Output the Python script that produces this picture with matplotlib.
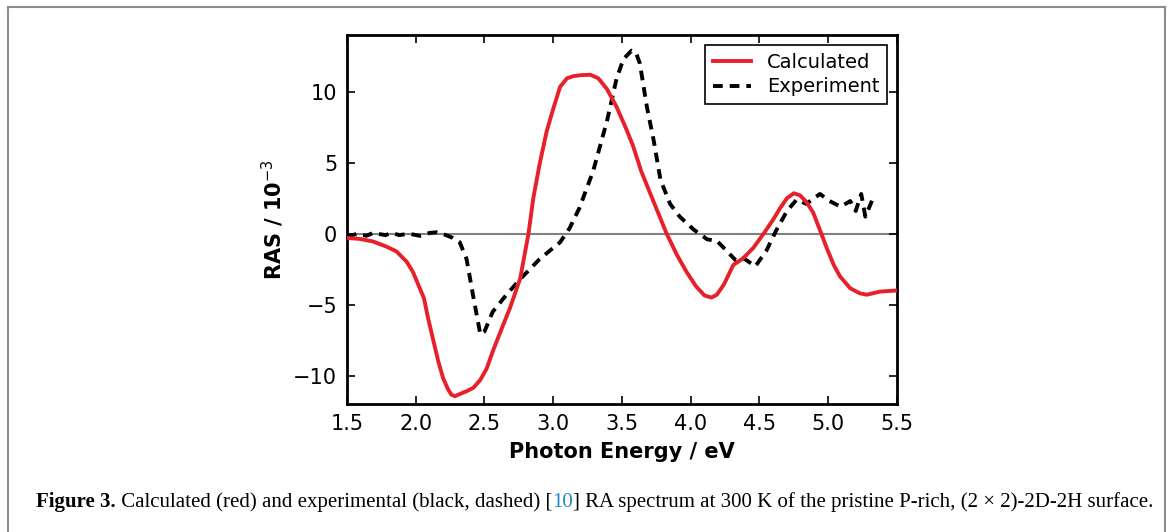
import matplotlib
matplotlib.use("Agg")
import matplotlib.pyplot as plt
from matplotlib.lines import Line2D

# ── Data ──────────────────────────────────────────────────────────────────────
calc_e = [1.50, 1.595, 1.69, 1.79, 1.86, 1.91, 1.934, 1.98, 2.06, 2.09, 2.13,
          2.164, 2.20, 2.237, 2.26, 2.285, 2.32, 2.37, 2.42, 2.47, 2.516,
          2.56, 2.637, 2.685, 2.76, 2.82, 2.855, 2.90, 2.952, 3.00, 3.05,
          3.10, 3.146, 3.20, 3.27, 3.328, 3.39, 3.46, 3.53, 3.58, 3.64, 3.73,
          3.825, 3.90, 3.97, 4.04, 4.10, 4.15, 4.19, 4.24, 4.31, 4.38, 4.455,
          4.53, 4.60, 4.65, 4.70, 4.75, 4.795, 4.84, 4.89, 4.95, 4.99, 5.04,
          5.085, 5.16, 5.23, 5.28, 5.376, 5.50]
calc_v = [-0.30, -0.37, -0.55, -0.92, -1.25, -1.74, -1.97, -2.7, -4.55, -5.96,
          -7.6, -9.0, -10.2, -11.0, -11.35, -11.45, -11.3, -11.1, -10.85,
          -10.3, -9.5, -8.3, -6.4, -5.25, -3.15, 0.0, 2.5, 4.85, 7.2, 8.8,
          10.35, 10.95, 11.1, 11.17, 11.2, 10.95, 10.2, 8.95, 7.4, 6.2, 4.4,
          2.25, 0.0, -1.5, -2.7, -3.73, -4.35, -4.5, -4.3, -3.6, -2.2, -1.74,
          -1.0, 0.0, 1.0, 1.8, 2.5, 2.85, 2.7, 2.25, 1.5, 0.0, -1.03, -2.2,
          -3.0, -3.85, -4.2, -4.3, -4.08, -4.0]

exp_e = [1.50, 1.58, 1.64, 1.69, 1.78, 1.83, 1.88, 1.95, 2.03, 2.10, 2.15,
         2.22, 2.27, 2.32, 2.37, 2.42, 2.47, 2.50, 2.56, 2.66, 2.76, 2.90,
         3.05, 3.12, 3.19, 3.29, 3.39, 3.46, 3.51, 3.57, 3.60, 3.63, 3.68,
         3.73, 3.78, 3.85, 3.92, 4.02, 4.12, 4.19, 4.26, 4.33, 4.38, 4.47,
         4.55, 4.62, 4.70, 4.77, 4.84, 4.94, 5.01, 5.09, 5.16, 5.20, 5.24,
         5.27, 5.33]
exp_v = [-0.2, 0.0, -0.15, 0.05, -0.1, 0.05, -0.1, 0.0, -0.15, 0.05, 0.1,
         -0.1, -0.3, -0.6, -1.8, -4.5, -7.1, -6.9, -5.5, -4.3, -3.2, -1.8,
         -0.6, 0.4, 1.8, 4.4, 7.9, 10.9, 12.3, 12.9, 12.8, 12.0, 9.0, 6.6,
         3.8, 2.1, 1.2, 0.3, -0.4, -0.5, -1.2, -1.9, -1.7, -2.3, -1.2, 0.2,
         1.6, 2.4, 2.1, 2.8, 2.3, 1.9, 2.3, 1.6, 2.8, 1.2, 2.6]

x_ticks = [1.5, 2.0, 2.5, 3.0, 3.5, 4.0, 4.5, 5.0, 5.5]
y_ticks = [-10, -5, 0, 5, 10]

RED = "#e8202a"

plt.rcParams["font.family"] = "DejaVu Sans"
plt.rcParams["lines.scale_dashes"] = False

fig = plt.figure(figsize=(11.71, 5.32), dpi=100)
ax = fig.add_axes([0.2963, 0.2406, 0.4697, 0.6936])

ax.axhline(0, color="#808080", lw=1.5, zorder=1)
ax.plot(calc_e, calc_v, color=RED, lw=2.8, label="Calculated", zorder=3,
        solid_joinstyle="round")
ax.plot(exp_e, exp_v, color="black", lw=2.8, dashes=(7, 5),
        label="Experiment", zorder=2)

ax.set_xlim(1.5, 5.5)
ax.set_ylim(-12, 14)
ax.set_xticks(x_ticks)
ax.set_xticklabels([f"{t:.1f}" for t in x_ticks])
ax.set_yticks(y_ticks)
ax.set_yticklabels([f"{t}".replace("-", "\u2212") for t in y_ticks])
ax.tick_params(direction="in", length=6, width=1.2, labelsize=15,
               top=True, right=True, pad=7)
for s in ax.spines.values():
    s.set_linewidth(2)

ax.set_xlabel("Photon Energy / eV", fontsize=15, fontweight="bold", labelpad=6)
ax.set_ylabel("RAS / 10$^{-3}$", fontsize=15, fontweight="bold", labelpad=5)

leg = ax.legend(loc="upper right", fontsize=14, fancybox=False,
                framealpha=1, edgecolor="black", handlelength=2.0,
                borderpad=0.4, labelspacing=0.3)
leg.get_frame().set_linewidth(1.2)

# ── outer frame ───────────────────────────────────────────────────────────────
for xs, ys in [([8, 8], [532, 7]), ([8, 1165], [7, 7]), ([1165, 1165], [7, 532])]:
    fig.add_artist(Line2D([x / 1171 for x in xs], [1 - y / 532 for y in ys],
                          transform=fig.transFigure, color="#8c8c8c", lw=1.5))

# ── caption, built piece by piece ─────────────────────────────────────────────
pieces = [
    ("Figure 3.", "bold", "black"),
    (" Calculated (red) and experimental (black, dashed) [", "normal", "black"),
    ("10", "normal", "#1f8ac0"),
    ("] RA spectrum at 300 K of the pristine P-rich, (2 \u00d7 2)-2D-2H surface.",
     "normal", "black"),
]
renderer = fig.canvas.get_renderer()
x = 36
y_base = 1 - 507 / 532
for txt, weight, col in pieces:
    t = fig.text(x / 1171, y_base, txt, fontsize=15, fontweight=weight,
                 color=col, family="Liberation Serif", ha="left",
                 va="baseline")
    bb = t.get_window_extent(renderer=renderer)
    x += bb.width

fig.savefig("out.png", dpi=100)
